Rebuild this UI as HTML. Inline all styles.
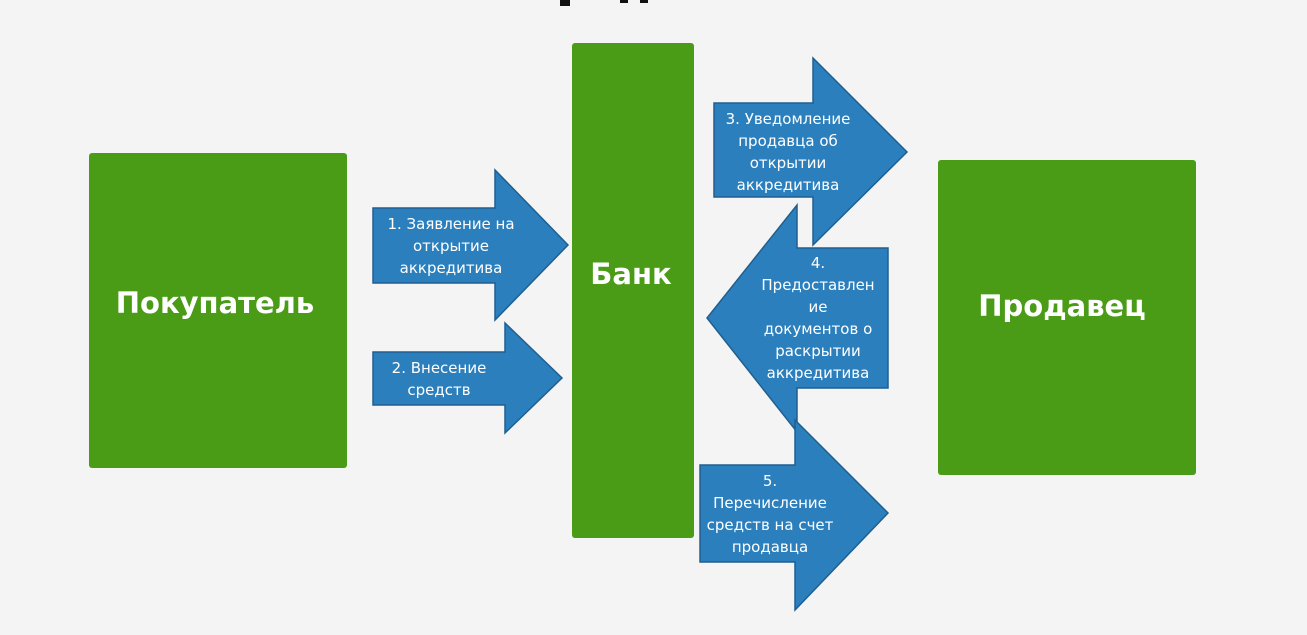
<!DOCTYPE html>
<html><head><meta charset="utf-8"><style>
body{margin:0;background:#f4f4f4;width:1307px;height:630px;overflow:hidden;font-family:"Liberation Sans",sans-serif}
</style></head><body>
<svg width="1307" height="630" xmlns="http://www.w3.org/2000/svg">
<rect width="1307" height="630" fill="#f4f4f4"/>
<rect x="560" y="0" width="10" height="6" fill="#111"/>
<rect x="620" y="0" width="8" height="3" fill="#111"/>
<rect x="640" y="0" width="8" height="3" fill="#111"/>
<rect x="89" y="153" width="258" height="315" rx="3" fill="#4a9c17"/>
<rect x="572" y="43" width="122" height="495" rx="3" fill="#4a9c17"/>
<rect x="938" y="160" width="258" height="315" rx="3" fill="#4a9c17"/>
<g font-family="DejaVu Sans, Liberation Sans, sans-serif" font-weight="bold" fill="#fff" font-size="29" text-anchor="middle">
<text x="215" y="313">Покупатель</text>
<text x="631" y="284">Банк</text>
<text x="1062" y="316">Продавец</text>
</g>
<g fill="#2c7fbd" stroke="#1e5f90" stroke-width="1.5">
<polygon points="373,208 495,208 495,170 568,245 495,320 495,283 373,283"/>
<polygon points="373,352 505,352 505,323 562,378 505,433 505,405 373,405"/>
<polygon points="888,248 797,248 797,205 707,318 797,432 797,388 888,388"/>
<polygon points="714,103 813,103 813,58 907,152 813,245 813,197 714,197"/>
<polygon points="700,465 795,465 795,420 888,513 795,610 795,562 700,562"/>
</g>
<g font-family="DejaVu Sans, Liberation Sans, sans-serif" fill="#fff" font-size="15" text-anchor="middle">
<text x="451" y="229">1. Заявление на</text>
<text x="451" y="251">открытие</text>
<text x="451" y="273">аккредитива</text>
<text x="439" y="373">2. Внесение</text>
<text x="439" y="395">средств</text>
<text x="788" y="124">3. Уведомление</text>
<text x="788" y="146">продавца об</text>
<text x="788" y="168">открытии</text>
<text x="788" y="190">аккредитива</text>
<text x="818" y="268">4.</text>
<text x="818" y="290">Предоставлен</text>
<text x="818" y="312">ие</text>
<text x="818" y="334">документов о</text>
<text x="818" y="356">раскрытии</text>
<text x="818" y="378">аккредитива</text>
<text x="770" y="486">5.</text>
<text x="770" y="508">Перечисление</text>
<text x="770" y="530">средств на счет</text>
<text x="770" y="552">продавца</text>
</g>
</svg>
</body></html>
